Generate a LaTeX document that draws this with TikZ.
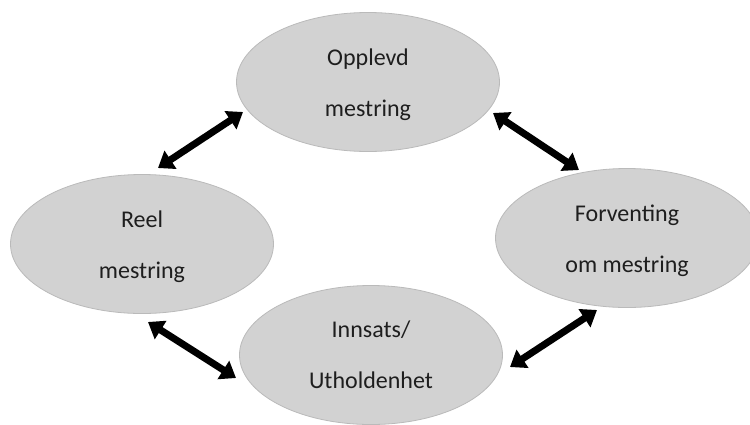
\documentclass[tikz,border=0pt]{standalone}
\usepackage{fontspec}
\setmainfont{Carlito}
\usetikzlibrary{arrows.meta,shapes.geometric,calc}
\definecolor{blobfill}{HTML}{D2D2D2}
\definecolor{blobline}{HTML}{BABABA}
\definecolor{txtcol}{HTML}{1E1E1E}
\tikzset{
  blob/.style={ellipse, fill=blobfill, draw=blobline, line width=0.8pt,
    minimum width=263pt, minimum height=139pt, inner sep=0pt},
  txt/.style={align=center, text=txtcol, inner sep=0pt,
    font=\fontsize{24}{51}\selectfont},
  dbl/.style={line width=7pt, black,
    {Triangle[width=21pt,length=15pt]}-{Triangle[width=21pt,length=15pt]}}
}
\begin{document}
\begin{tikzpicture}[x=1pt,y=-1pt]
\useasboundingbox (0,0) rectangle (750,424);
\fill[white] (0,0) rectangle (750,424);
\node[blob] (top) at (368,82) {};
\node[blob] (left) at (142,244) {};
\node[blob] (right) at (627,238) {};
\node[blob] (bottom) at (371,355) {};
\node[txt] (topt) at ([yshift=-3pt]top.center) {Opplevd\\mestring};
\node[txt] (leftt) at ([yshift=-3pt]left.center) {Reel\\mestring};
\node[txt] (rightt) at ([yshift=-3pt]right.center) {Forventing\\om mestring};
\node[txt] (bottomt) at (bottom.center) {Innsats/\\Utholdenhet};
\coordinate (a1) at ($(top.center)+(-125,30)$);
\coordinate (a2) at ($(left.center)+(16,-76)$);
\coordinate (b1) at ($(top.center)+(125,31)$);
\coordinate (b2) at ($(right.center)+(-48,-68)$);
\coordinate (c1) at ($(left.center)+(6,78)$);
\coordinate (c2) at ($(bottom.center)+(-135,23)$);
\coordinate (d1) at ($(right.center)+(-30,72)$);
\coordinate (d2) at ($(bottom.center)+(139,12)$);
\draw[dbl] (a1) -- (a2);
\draw[dbl] (b1) -- (b2);
\draw[dbl] (c1) -- (c2);
\draw[dbl] (d1) -- (d2);
\end{tikzpicture}
\end{document}
